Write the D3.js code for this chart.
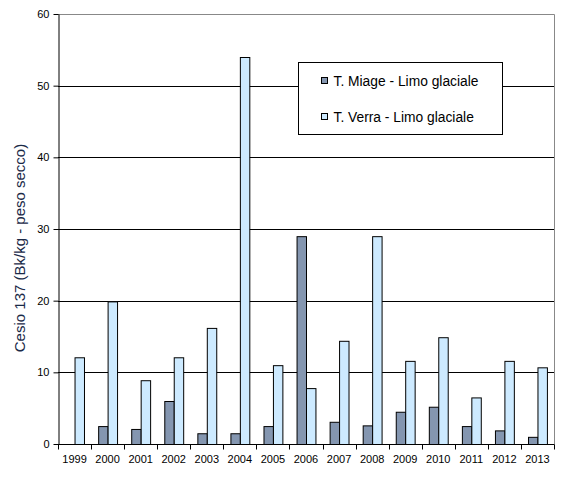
<!DOCTYPE html>
<html>
<head>
<meta charset="utf-8">
<script src="https://cdn.jsdelivr.net/npm/d3@7"></script>
<style>
  body { margin: 0; background: #fff; }
  text { font-family: Arial, "Liberation Sans", sans-serif; }
</style>
</head>
<body>
<div id="chart"></div>
<script>
// values
var years = ["1999", "2000", "2001", "2002", "2003", "2004", "2005", "2006",
             "2007", "2008", "2009", "2010", "2011", "2012", "2013"];
var miage = [0, 2.5, 2.1, 6.0, 1.5, 1.5, 2.5, 29.0, 3.1, 2.6, 4.5, 5.2, 2.5, 1.9, 1.0];
var verra = [12.1, 19.9, 8.9, 12.1, 16.2, 54.0, 11.0, 7.8, 14.4, 29.0, 11.6, 14.9, 6.5, 11.6, 10.7];
var seriesNames = ["T. Miage - Limo glaciale", "T. Verra - Limo glaciale"];
var yTicks = [0, 10, 20, 30, 40, 50, 60];

var width = 567, height = 491;
var margin = { top: 14, right: 13, bottom: 47, left: 58 };
var colors = ["#8496b0", "#cdeaff"];

var svg = d3.select("#chart").append("svg")
    .attr("width", width)
    .attr("height", height);

var x = d3.scaleBand()
    .domain(years)
    .range([margin.left, width - margin.right]);

// gap width 150% -> two bars take 2/3.5 of the band
var barW = x.bandwidth() / 3.5;
var xs = d3.scaleBand()
    .domain([0, 1])
    .range([barW * 0.75, barW * 2.75]);

var y = d3.scaleLinear()
    .domain([0, 60])
    .range([height - margin.bottom, margin.top]);

// gridlines
svg.append("g")
    .selectAll("line")
    .data(yTicks.filter(function(d) { return d > 0 && d < 60; }))
    .enter().append("line")
    .attr("x1", margin.left)
    .attr("x2", width - margin.right)
    .attr("y1", function(d) { return Math.round(y(d)) + 0.5; })
    .attr("y2", function(d) { return Math.round(y(d)) + 0.5; })
    .attr("stroke", "#000")
    .attr("stroke-width", 1);

// plot area border (top and right are gray)
svg.append("path")
    .attr("d", "M" + margin.left + "," + (margin.top + 0.5) +
               "H" + (width - margin.right + 0.5) +
               "V" + (height - margin.bottom))
    .attr("fill", "none")
    .attr("stroke", "#888");

// bars
var series = [miage, verra];
series.forEach(function(vals, si) {
    svg.append("g")
        .selectAll("rect")
        .data(vals.map(function(v, i) { return { year: years[i], v: v }; })
                  .filter(function(d) { return d.v > 0; }))
        .enter().append("rect")
        .attr("x", function(d) { return x(d.year) + xs(si) + 0.5; })
        .attr("y", function(d) { return y(d.v) + 0.5; })
        .attr("width", xs.bandwidth())
        .attr("height", function(d) { return y(0) - y(d.v); })
        .attr("fill", colors[si])
        .attr("stroke", "#000")
        .attr("stroke-width", 1);
});

// y axis
var yAxis = svg.append("g")
    .attr("transform", "translate(" + (margin.left + 0.5) + ",0)")
    .call(d3.axisLeft(y).tickValues(yTicks).tickSize(5).tickPadding(4).tickSizeOuter(0));
yAxis.select(".domain").attr("stroke", "#000");
yAxis.selectAll(".tick line").attr("stroke", "#000");
yAxis.selectAll("text").attr("font-size", "11px").attr("fill", "#000");

// x axis with ticks at category boundaries
var xAxis = svg.append("g")
    .attr("transform", "translate(0," + (Math.round(y(0)) + 0.5) + ")");
xAxis.append("line")
    .attr("x1", margin.left)
    .attr("x2", width - margin.right + 0.5)
    .attr("stroke", "#000");
xAxis.selectAll(".bt")
    .data(years.concat(["end"]))
    .enter().append("line")
    .attr("class", "bt")
    .attr("x1", function(d, i) { return Math.round(margin.left + i * x.step()) + 0.5; })
    .attr("x2", function(d, i) { return Math.round(margin.left + i * x.step()) + 0.5; })
    .attr("y1", 0)
    .attr("y2", 5)
    .attr("stroke", "#000");
xAxis.selectAll(".lbl")
    .data(years)
    .enter().append("text")
    .attr("class", "lbl")
    .attr("x", function(d) { return x(d) + x.bandwidth() / 2; })
    .attr("y", 18)
    .attr("text-anchor", "middle")
    .attr("font-size", "11px")
    .attr("fill", "#000")
    .text(function(d) { return d; });

// y title
svg.append("text")
    .attr("transform", "translate(25,248) rotate(-90)")
    .attr("text-anchor", "middle")
    .attr("font-size", "15px")
    .attr("fill", "#1a2a48")
    .text("Cesio 137 (Bk/kg - peso secco)");

// legend
var lg = svg.append("g").attr("transform", "translate(298.5,62.5)");
lg.append("rect")
    .attr("width", 204)
    .attr("height", 72)
    .attr("fill", "#fff")
    .attr("stroke", "#000");
seriesNames.forEach(function(name, i) {
    var cy = 18 + i * 36;
    lg.append("rect")
        .attr("x", 23)
        .attr("y", cy - 3)
        .attr("width", 6)
        .attr("height", 6)
        .attr("fill", colors[i])
        .attr("stroke", "#000");
    lg.append("text")
        .attr("x", 35)
        .attr("y", cy + 5)
        .attr("font-size", "13.8px")
        .attr("fill", "#000")
        .text(name);
});
</script>
</body>
</html>
